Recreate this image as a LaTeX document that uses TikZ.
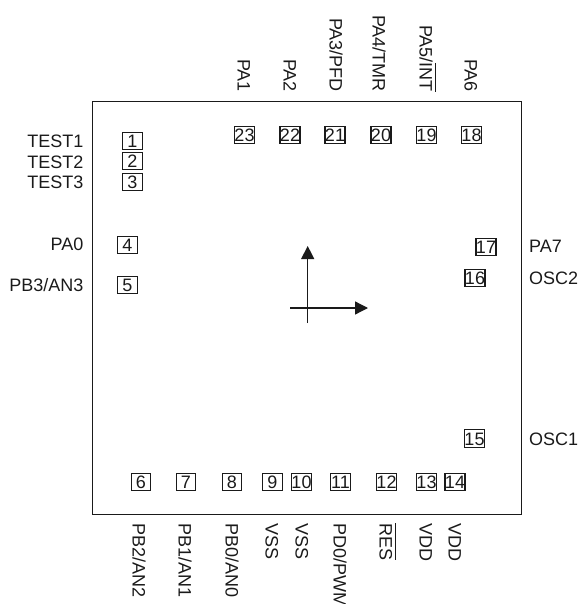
\documentclass[tikz,border=0pt]{standalone}
\usepackage{fontspec}
\setmainfont{Liberation Sans}
\usetikzlibrary{arrows.meta}
\definecolor{ink}{HTML}{1A1A1A}
\tikzset{
  x=1pt,y=-1pt,
  pinbox/.style={draw=ink,line width=1.1pt,minimum width=19.5pt,minimum height=17.5pt,inner sep=0pt,text=ink,font=\fontsize{18}{18}\selectfont,text height=13pt,text depth=0pt,align=center},
  lbl/.style={inner sep=0pt,text=ink,font=\fontsize{18}{18}\selectfont,text height=13pt,text depth=0pt},
  leftlbl/.style={lbl,anchor=east},
  rightlbl/.style={lbl,anchor=west},
  toplbl/.style={lbl,rotate=-90,anchor=east},
  botlbl/.style={lbl,rotate=-90,anchor=west},
  chip/.style={draw=ink,line width=1.4pt},
  axis/.style={draw=ink,line width=1.3pt,-{Triangle[length=13pt,width=13pt]}},
}
\newcommand{\ovl}[1]{\setbox0\hbox{#1}\rlap{\rule[15.6pt]{\wd0}{1.1pt}}\box0 }
\begin{document}
\begin{tikzpicture}
\useasboundingbox (0,0) rectangle (580,604);
\clip (0,0) rectangle (580,604);
\node[chip,minimum width=429pt,minimum height=412.6pt,inner sep=0pt] (body) at (307.1,308) {};
% pins
\node[pinbox] (p1) at (132.5,141) {1};
\node[pinbox] (p2) at (132.5,161) {2};
\node[pinbox] (p3) at (132.5,182) {3};
\node[pinbox] (p4) at (127.5,245) {4};
\node[pinbox] (p5) at (127.5,285) {5};
\node[pinbox] (p6) at (141,482) {6};
\node[pinbox] (p7) at (186,482) {7};
\node[pinbox] (p8) at (232,482) {8};
\node[pinbox] (p9) at (272.5,482) {9};
\node[pinbox] (p10) at (301.5,482) {10};
\node[pinbox] (p11) at (340.5,482) {11};
\node[pinbox] (p12) at (386.5,482) {12};
\node[pinbox] (p13) at (426.5,482) {13};
\node[pinbox] (p14) at (455,482) {14};
\node[pinbox] (p15) at (474.5,438.5) {15};
\node[pinbox] (p16) at (475,278) {16};
\node[pinbox] (p17) at (486,247) {17};
\node[pinbox] (p18) at (471.5,135) {18};
\node[pinbox] (p19) at (426.5,135) {19};
\node[pinbox] (p20) at (381,135) {20};
\node[pinbox] (p21) at (335,135) {21};
\node[pinbox] (p22) at (290,135) {22};
\node[pinbox] (p23) at (244.5,135) {23};
% left labels
\node[leftlbl] (t1) at (83.5,141) {TEST1};
\node[leftlbl] (t2) at (83.5,162) {TEST2};
\node[leftlbl] (t3) at (83.5,182) {TEST3};
\node[leftlbl] (t4) at (83.5,244) {PA0};
\node[leftlbl] (t5) at (83.5,285) {PB3/AN3};
% right labels
\node[rightlbl] (t17) at (529,246) {PA7};
\node[rightlbl] (t16) at (529,278) {OSC2};
\node[rightlbl] (t15) at (529,439) {OSC1};
% top labels
\node[toplbl] (t23) at (244,92) {PA1};
\node[toplbl] (t22) at (290,92) {PA2};
\node[toplbl] (t21) at (336,92) {PA3/PFD};
\node[toplbl] (t20) at (379,92) {PA4/TMR};
\node[toplbl] (t19) at (426,92) {PA5/\ovl{INT}};
\node[toplbl] (t18) at (471,92) {PA6};
% bottom labels
\node[botlbl] (t6) at (139,523) {PB2/AN2};
\node[botlbl] (t7) at (185,523) {PB1/AN1};
\node[botlbl] (t8) at (232,523) {PB0/AN0};
\node[botlbl] (t9) at (272,523) {VSS};
\node[botlbl] (t10) at (302,523) {VSS};
\node[botlbl] (t11) at (340,523) {PD0/PWM};
\node[botlbl] (t12) at (386,523) {\ovl{RES}};
\node[botlbl] (t13) at (426,523) {VDD};
\node[botlbl] (t14) at (455,523) {VDD};
% axes
\coordinate (ys) at (307.7,323);
\coordinate (ye) at (307.7,246);
\coordinate (xs) at (290,308);
\coordinate (xe) at (368,308);
\draw[axis] (ys) -- (ye);
\draw[axis] (xs) -- (xe);
\end{tikzpicture}
\end{document}
